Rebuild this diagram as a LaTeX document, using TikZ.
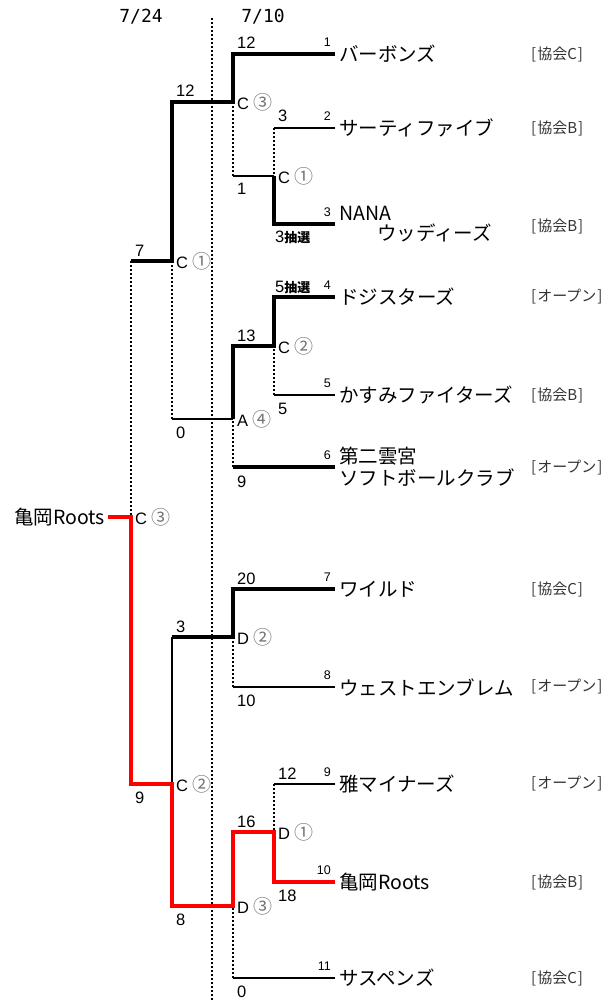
\documentclass[tikz,border=0pt]{standalone}
\usepackage{fontspec}
\setmainfont{Liberation Sans}
\newfontfamily\jp{Noto Sans CJK JP}
\newfontfamily\hdr{DejaVu Sans Mono}
\usetikzlibrary{positioning}
\newcommand{\circnum}[1]{{\jp\fontsize{19}{19}\selectfont\color{black!55}#1}}
\newcommand{\lots}{{\jp\bfseries\fontsize{13}{13}\selectfont 抽選}}

\begin{document}
\begin{tikzpicture}[x=1pt, y=-1pt,
    win/.style={line width=3.2pt, black},
    lose/.style={line width=2.2pt, black},
    dots/.style={line width=2pt, black, dash pattern=on 2pt off 2pt},
    champ/.style={line width=4.2pt, red},
    score/.style={font=\fontsize{16.5}{18}\selectfont, inner sep=0pt, anchor=base west},
    seed/.style={font=\fontsize{12.5}{13}\selectfont, inner sep=0pt},
    team/.style={font=\jp\fontsize{19.5}{21}\selectfont, inner sep=0pt, anchor=west},
    grp/.style={font=\jp\fontsize{15}{16}\selectfont, inner sep=0pt, anchor=west, black!80},
    mlab/.style={font=\fontsize{16.5}{18}\selectfont, inner sep=0pt, anchor=west},
    date/.style={font=\hdr\fontsize{18}{20}\selectfont, inner sep=0pt}]
    \useasboundingbox (0,0) rectangle (615,1000);

    %% Team line ends
    \coordinate (t1) at (335,54);
    \coordinate (t2) at (335,128);
    \coordinate (t3) at (335,224);
    \coordinate (t4) at (335,297);
    \coordinate (t5) at (335,395);
    \coordinate (t6) at (335,467);
    \coordinate (t7) at (335,589);
    \coordinate (t8) at (335,687);
    \coordinate (t9) at (335,784);
    \coordinate (t10) at (335,882);
    \coordinate (t11) at (335,978);

    %% Matches
    \coordinate (m1) at (274,176);
    \coordinate (m2) at (233,102);
    \coordinate (m3) at (274,346);
    \coordinate (m4) at (233,419);
    \coordinate (m5) at (172,261);
    \coordinate (m6) at (233,637);
    \coordinate (m7) at (274,832);
    \coordinate (m8) at (233,906);
    \coordinate (m9) at (172,784);
    \coordinate (m10) at (131,517);
    \coordinate (champ) at (108,517);

    %% Round separator
    \coordinate (sepTop) at (212,18);
    \coordinate (sepBot) at (212,1000);
    \draw[dots] (sepTop) -- (sepBot);
    \node[date] (d1) at (141,17) {7/24};
    \node[date] (d2) at (263,17) {7/10};

    %% Block C
    \draw[win] (t1) -| (m2) -| (m5) -- (m5 -| m10);
    \draw[lose] (t2) -- (t2 -| m1);
    \draw[dots] (t2 -| m1) -- (m1);
    \draw[win] (t3) -| (m1);
    \draw[lose] (m1) -- (m1 -| m2);
    \draw[dots] (m1 -| m2) -- (m2);
    \draw[win] (t4) -| (m3) -| (m4);
    \draw[lose] (t5) -- (t5 -| m3);
    \draw[dots] (t5 -| m3) -- (m3);
    \draw[win] (t6) -- (t6 -| m4);
    \draw[dots] (t6 -| m4) -- (m4);
    \draw[lose] (m4) -- (m4 -| m5);
    \draw[dots] (m4 -| m5) -- (m5);
    \draw[dots] (m5 -| m10) -- (m10);

    %% Block D
    \draw[win] (t7) -| (m6) -- (m6 -| m9);
    \draw[lose] (t8) -- (t8 -| m6);
    \draw[dots] (t8 -| m6) -- (m6);
    \draw[lose] (m6 -| m9) -- (m9);
    \draw[lose] (t9) -- (t9 -| m7);
    \draw[dots] (t9 -| m7) -- (m7);
    \draw[lose] (t11) -- (t11 -| m8);
    \draw[dots] (t11 -| m8) -- (m8);
    \draw[champ] (t10) -| (m7) -| (m8) -| (m9) -| (m10) -- (champ);

    %% Match labels
    \node[mlab, right=4pt of m1] (l1) {C \circnum{①}};
    \node[mlab, right=4pt of m2] (l2) {C \circnum{③}};
    \node[mlab, right=4pt of m3] (l3) {C \circnum{②}};
    \node[mlab, right=4pt of m4] (l4) {A \circnum{④}};
    \node[mlab, right=4pt of m5] (l5) {C \circnum{①}};
    \node[mlab, right=4pt of m6] (l6) {D \circnum{②}};
    \node[mlab, right=4pt of m7] (l7) {D \circnum{①}};
    \node[mlab, right=4pt of m8] (l8) {D \circnum{③}};
    \node[mlab, right=4pt of m9] (l9) {C \circnum{②}};
    \node[mlab, right=4pt of m10] (l10) {C \circnum{③}};
    \node[team, anchor=east, left=3pt of champ] (winner) {亀岡Roots};

    %% Scores
    \node[score] (s1) at (237,49) {12};
    \node[score] (s2) at (278,122) {3};
    \node[score] (s3) at (275,243) {3\lots};
    \node[score] (s4) at (237,195) {1};
    \node[score] (s5) at (176,97) {12};
    \node[score] (s6) at (275,292) {5\lots};
    \node[score] (s7) at (278,414) {5};
    \node[score] (s8) at (237,341) {13};
    \node[score] (s9) at (237,487) {9};
    \node[score] (s10) at (176,438) {0};
    \node[score] (s11) at (135,256) {7};
    \node[score] (s12) at (237,584) {20};
    \node[score] (s13) at (237,706) {10};
    \node[score] (s14) at (176,632) {3};
    \node[score] (s15) at (278,779) {12};
    \node[score] (s16) at (278,901) {18};
    \node[score] (s17) at (237,827) {16};
    \node[score] (s18) at (237,997) {0};
    \node[score] (s19) at (176,925) {8};
    \node[score] (s20) at (135,803) {9};

    %% Seeds
    \node[seed, above left=7pt and 4pt of t1] (n1) {1};
    \node[seed, above left=7pt and 4pt of t2] (n2) {2};
    \node[seed, above left=7pt and 4pt of t3] (n3) {3};
    \node[seed, above left=7pt and 4pt of t4] (n4) {4};
    \node[seed, above left=7pt and 4pt of t5] (n5) {5};
    \node[seed, above left=7pt and 4pt of t6] (n6) {6};
    \node[seed, above left=7pt and 4pt of t7] (n7) {7};
    \node[seed, above left=7pt and 4pt of t8] (n8) {8};
    \node[seed, above left=7pt and 4pt of t9] (n9) {9};
    \node[seed, above left=7pt and 4pt of t10] (n10) {10};
    \node[seed, above left=7pt and 4pt of t11] (n11) {11};

    %% Teams
    \node[team, right=4pt of t1] (team1) {バーボンズ};
    \node[team, right=4pt of t2] (team2) {サーティファイブ};
    \node[team, right=4pt of t3, yshift=11pt] (team3a) {NANA};
    \node[team, below right=3pt and 38pt of team3a.south west] (team3b) {ウッディーズ};
    \node[team, right=4pt of t4] (team4) {ドジスターズ};
    \node[team, right=4pt of t5] (team5) {かすみファイターズ};
    \node[team, right=4pt of t6, yshift=11pt] (team6a) {第二雲宮};
    \node[team, below right=3pt and 0pt of team6a.south west] (team6b) {ソフトボールクラブ};
    \node[team, right=4pt of t7] (team7) {ワイルド};
    \node[team, right=4pt of t8] (team8) {ウェストエンブレム};
    \node[team, right=4pt of t9] (team9) {雅マイナーズ};
    \node[team, right=4pt of t10] (team10) {亀岡Roots};
    \node[team, right=4pt of t11] (team11) {サスペンズ};

    %% Groups
    \node[grp] (g1) at (531,54) {[\hspace{1pt}協会C\hspace{1pt}]};
    \node[grp] (g2) at (531,128) {[\hspace{1pt}協会B\hspace{1pt}]};
    \node[grp] (g3) at (531,226) {[\hspace{1pt}協会B\hspace{1pt}]};
    \node[grp] (g4) at (531,297) {[\hspace{1pt}オープン\hspace{1pt}]};
    \node[grp] (g5) at (531,395) {[\hspace{1pt}協会B\hspace{1pt}]};
    \node[grp] (g6) at (531,468) {[\hspace{1pt}オープン\hspace{1pt}]};
    \node[grp] (g7) at (531,589) {[\hspace{1pt}協会C\hspace{1pt}]};
    \node[grp] (g8) at (531,687) {[\hspace{1pt}オープン\hspace{1pt}]};
    \node[grp] (g9) at (531,784) {[\hspace{1pt}オープン\hspace{1pt}]};
    \node[grp] (g10) at (531,882) {[\hspace{1pt}協会B\hspace{1pt}]};
    \node[grp] (g11) at (531,978) {[\hspace{1pt}協会C\hspace{1pt}]};
\end{tikzpicture}
\end{document}
